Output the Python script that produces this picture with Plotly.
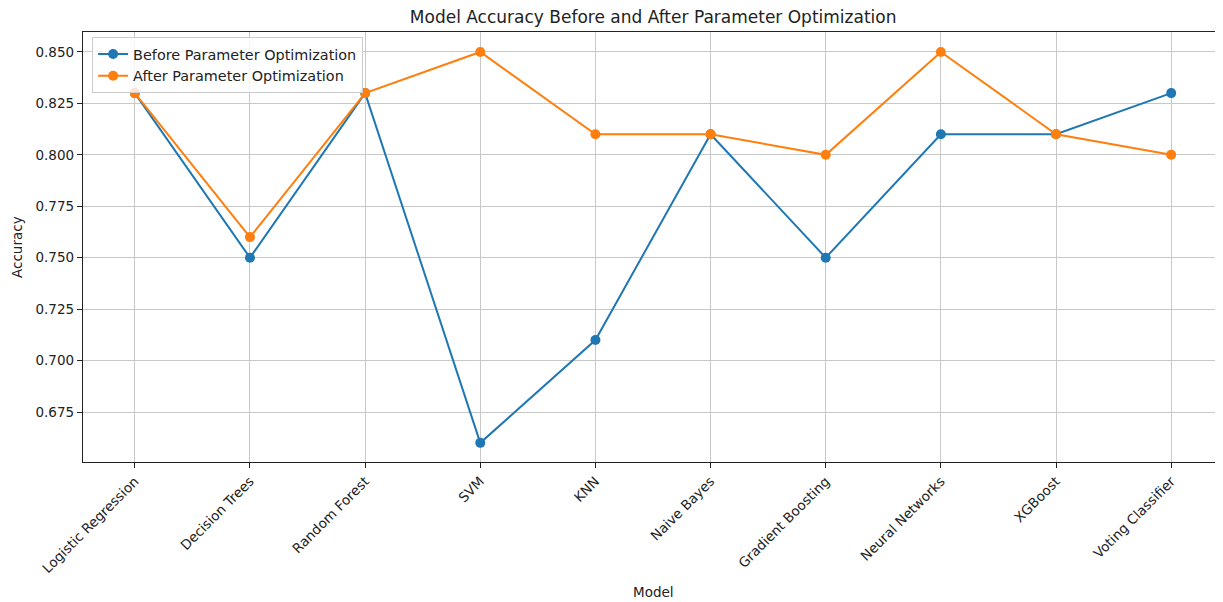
import plotly.graph_objects as go

models = ["Logistic Regression", "Decision Trees", "Random Forest", "SVM", "KNN",
          "Naive Bayes", "Gradient Boosting", "Neural Networks", "XGBoost", "Voting Classifier"]
before = [0.83, 0.75, 0.83, 0.66, 0.71, 0.81, 0.75, 0.81, 0.81, 0.83]
after = [0.83, 0.76, 0.83, 0.85, 0.81, 0.81, 0.80, 0.85, 0.81, 0.80]
y_ticks = [0.675, 0.700, 0.725, 0.750, 0.775, 0.800, 0.825, 0.850]

fig = go.Figure()
fig.add_trace(go.Scatter(x=list(range(len(models))), y=before, mode="lines+markers",
                         name="Before Parameter Optimization",
                         line=dict(color="#1f77b4", width=2), marker=dict(size=10)))
fig.add_trace(go.Scatter(x=list(range(len(models))), y=after, mode="lines+markers",
                         name="After Parameter Optimization",
                         line=dict(color="#ff7f0e", width=2), marker=dict(size=10)))

axis_style = dict(showline=True, linecolor="#222", linewidth=1.3,
                  showgrid=True, gridcolor="#c8c8c8", gridwidth=1, automargin=False,
                  ticks="outside", ticklen=5, tickcolor="#222", zeroline=False,
                  tickfont=dict(size=13.5, color="#222"))

# the page body adds an 8px offset, so the figure is 8px smaller and margins shifted
fig.update_layout(
    width=1215, height=594,
    font=dict(family="DejaVu Sans", color="#222"),
    paper_bgcolor="white", plot_bgcolor="white",
    margin=dict(l=75, r=0, t=24, b=140),
    title=dict(text="Model Accuracy Before and After Parameter Optimization",
               x=0.531, xanchor="center", y=0.985, yanchor="middle",
               font=dict(size=17)),
    legend=dict(x=0.008, y=0.988, xanchor="left", yanchor="top",
                bgcolor="rgba(255,255,255,0.8)", bordercolor="#ccc", borderwidth=1,
                font=dict(size=14.4)),
    xaxis=dict(axis_style, mirror=True, tickmode="array", tickvals=list(range(len(models))),
               ticktext=models, tickangle=-45, range=[-0.45, 9.45]),
    yaxis=dict(axis_style, tickmode="array", tickvals=y_ticks,
               ticktext=["%.3f" % v for v in y_ticks], range=[0.6507, 0.8597]),
)
fig.add_annotation(text="Model", xref="paper", yref="paper", x=0.5, y=-0.302,
                   xanchor="center", yanchor="middle", showarrow=False,
                   font=dict(size=13.5))
fig.add_annotation(text="Accuracy", xref="paper", yref="paper", x=-0.0579, y=0.5,
                   xanchor="center", yanchor="middle", showarrow=False, textangle=-90,
                   font=dict(size=13.5))

fig.write_html("out.html")
